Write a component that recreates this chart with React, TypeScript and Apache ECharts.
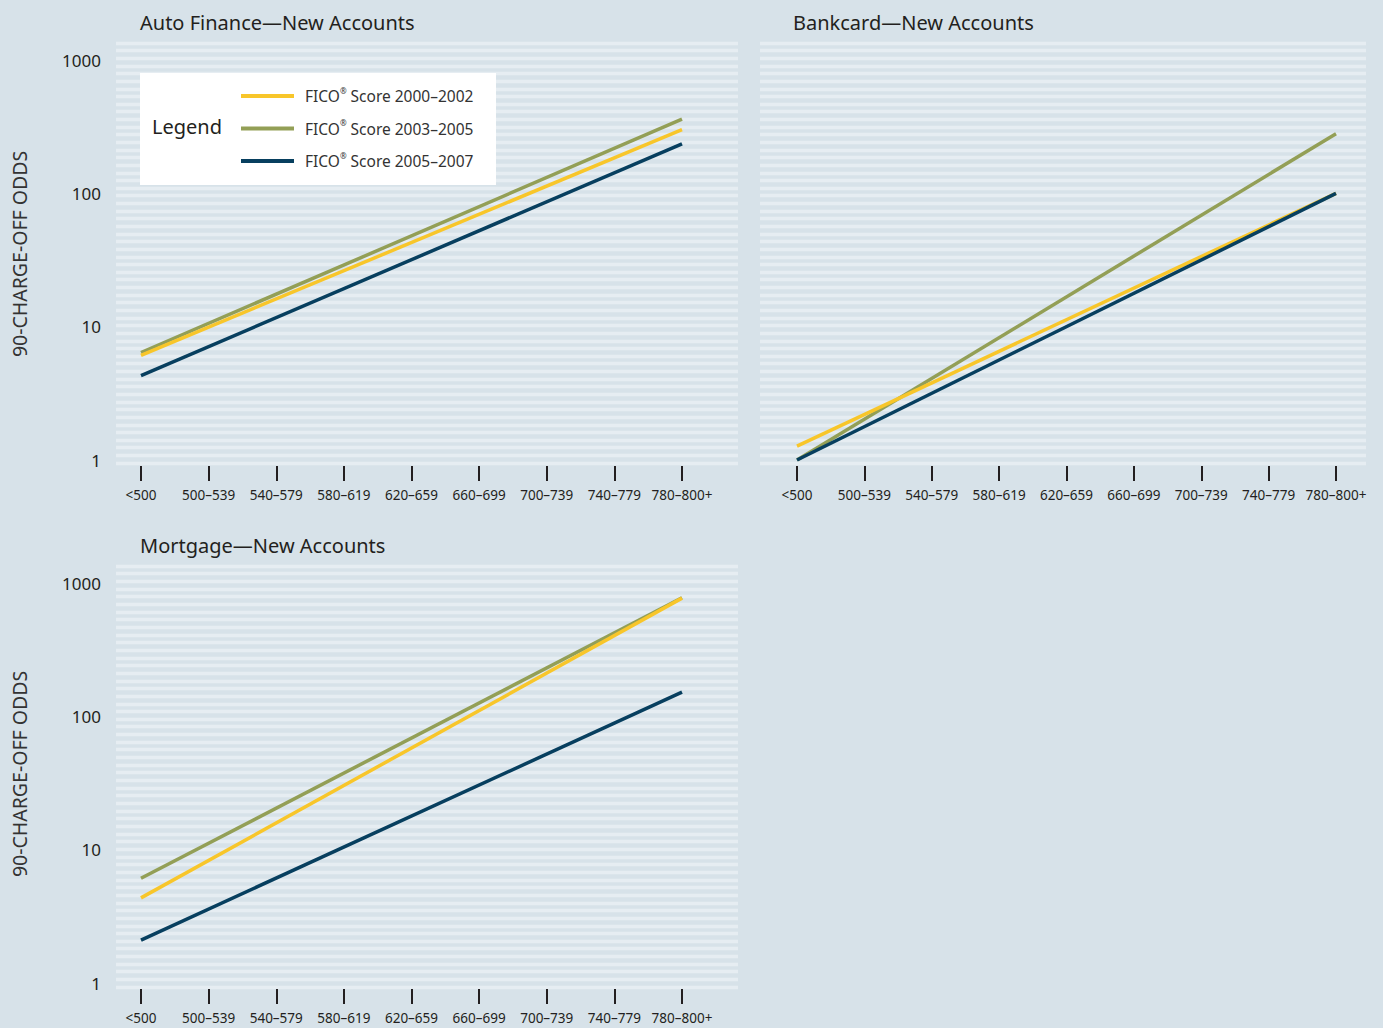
import React, { useEffect, useRef } from "react";
import * as echarts from "echarts";

const categories = ["<500", "500–539", "540–579", "580–619", "620–659", "660–699", "700–739", "740–779", "780–800+"];
const seriesNames = ["FICO® Score 2000–2002", "FICO® Score 2003–2005", "FICO® Score 2005–2007"];
const seriesColors = ["#f8c62a", "#939f56", "#073f5f"];
const yTicks = [1, 10, 100, 1000];

// Auto Finance (only endpoints are drawn in the original)
const autoYellow = [6.1, null, null, null, null, null, null, null, 300];
const autoOlive = [6.4, null, null, null, null, null, null, null, 360];
const autoNavy = [4.3, null, null, null, null, null, null, null, 235];
// Bankcard
const bankYellow = [1.27, null, null, null, null, null, null, null, 100];
const bankOlive = [1.0, null, null, null, null, null, null, null, 280];
const bankNavy = [1.0, null, null, null, null, null, null, null, 100];
// Mortgage
const mortYellow = [4.35, null, null, null, null, null, null, null, 770];
const mortOlive = [6.1, null, null, null, null, null, null, null, 775];
const mortNavy = [2.1, null, null, null, null, null, null, null, 152];

const panelTitles = ["Auto Finance—New Accounts", "Bankcard—New Accounts", "Mortgage—New Accounts"];
const yAxisName = "90-CHARGE-OFF ODDS";

const FONT = "'Noto Sans', 'Open Sans', sans-serif";
const BG = "#d7e2e9";
const STRIPE = "#e6edf2";
const TEXT = "#231f20";

export default function App() {
  const ref = useRef<HTMLDivElement>(null);
  useEffect(() => {
    if (!ref.current) return;
    const chart = echarts.init(ref.current, undefined, { renderer: "svg" });

    const stripeGrids = [
      { left: 116, top: 43, width: 622, height: 420 },
      { left: 760, top: 43, width: 606, height: 420 },
      { left: 116, top: 566, width: 622, height: 421 },
    ];
    const dataGrids = [
      { left: 141, top: 60, width: 541, height: 400 },
      { left: 797, top: 60, width: 539, height: 400 },
      { left: 141, top: 583, width: 541, height: 400 },
    ];
    const grids = [...stripeGrids, ...dataGrids];

    const xAxes: any[] = [];
    const yAxes: any[] = [];
    stripeGrids.forEach((_, i) => {
      xAxes.push({ gridIndex: i, type: "value", show: false, min: 0, max: 1 });
      yAxes.push({
        gridIndex: i,
        type: "value",
        min: 0,
        max: 55,
        interval: 1,
        axisLine: { show: false },
        axisTick: { show: false },
        axisLabel: { show: false },
        splitLine: { show: true, lineStyle: { color: STRIPE, width: 3.4 } },
      });
    });
    dataGrids.forEach((_, i) => {
      xAxes.push({
        gridIndex: 3 + i,
        type: "category",
        data: categories,
        boundaryGap: false,
        offset: 6,
        axisLine: { show: false },
        axisTick: { show: true, alignWithLabel: true, length: 15, lineStyle: { color: TEXT, width: 2 } },
        axisLabel: { color: TEXT, fontSize: 13.5, fontFamily: FONT, margin: 22, interval: 0 },
        splitLine: { show: false },
      });
      yAxes.push({
        gridIndex: 3 + i,
        type: "log",
        logBase: 10,
        min: yTicks[0],
        max: yTicks[yTicks.length - 1],
        axisLine: { show: false },
        axisTick: { show: false },
        splitLine: { show: false },
        axisLabel: {
          show: i !== 1,
          color: TEXT,
          fontSize: 17,
          fontFamily: FONT,
          margin: 40,
          formatter: (v: number) => String(Math.round(v)),
        },
      });
    });

    const panels = [
      [autoYellow, autoOlive, autoNavy],
      [bankYellow, bankOlive, bankNavy],
      [mortYellow, mortOlive, mortNavy],
    ];
    const zOrder = [3, 2, 4];
    const series: any[] = [];
    panels.forEach((p, pi) => {
      p.forEach((d, si) => {
        series.push({
          name: seriesNames[si],
          type: "line",
          xAxisIndex: 3 + pi,
          yAxisIndex: 3 + pi,
          data: d,
          connectNulls: true,
          showSymbol: false,
          symbol: "none",
          z: zOrder[si],
          color: seriesColors[si],
          lineStyle: { width: 3.5, color: seriesColors[si] },
        });
      });
    });

    const titleStyle = { fill: TEXT, fontSize: 20, fontFamily: FONT };
    const nameStyle = { text: yAxisName, fill: "#333", fontSize: 19.5, fontFamily: FONT, align: "center", verticalAlign: "middle" };
    const graphic: any[] = [
      { type: "text", left: 140, top: 12, style: { ...titleStyle, text: panelTitles[0] } },
      { type: "text", left: 793, top: 12, style: { ...titleStyle, text: panelTitles[1] } },
      { type: "text", left: 140, top: 535, style: { ...titleStyle, text: panelTitles[2] } },
      { type: "text", x: 19.5, y: 254, rotation: Math.PI / 2, style: nameStyle },
      { type: "text", x: 19.5, y: 774, rotation: Math.PI / 2, style: nameStyle },
      { type: "rect", shape: { x: 140, y: 73, width: 356, height: 112 }, style: { fill: "#ffffff" }, z: 8 },
      {
        type: "text",
        x: 152,
        y: 126,
        z: 9,
        style: { text: "Legend", fill: TEXT, fontSize: 20, fontFamily: FONT, verticalAlign: "middle" },
      },
    ];

    chart.setOption({
      animation: false,
      backgroundColor: BG,
      grid: grids.map((g) => ({ ...g, containLabel: false })),
      xAxis: xAxes,
      yAxis: yAxes,
      series,
      legend: {
        data: seriesNames,
        orient: "vertical",
        left: 241,
        top: 86,
        padding: 0,
        itemWidth: 53,
        itemHeight: 4,
        itemGap: 12.5,
        icon: "rect",
        z: 10,
        selectedMode: false,
        formatter: (name: string) => name.replace("®", "{sup|®}"),
        textStyle: {
          color: "#333",
          fontSize: 15.5,
          fontFamily: FONT,
          lineHeight: 20,
          padding: [0, 0, 0, 6],
          rich: { sup: { fontSize: 8, verticalAlign: "top", padding: [0, 0, 8, 0], color: "#333" } },
        },
      },
      graphic,
    });
    return () => chart.dispose();
  }, []);
  return <div ref={ref} style={{ position: "fixed", left: 0, top: 0, width: 1383, height: 1028 }} />;
}
